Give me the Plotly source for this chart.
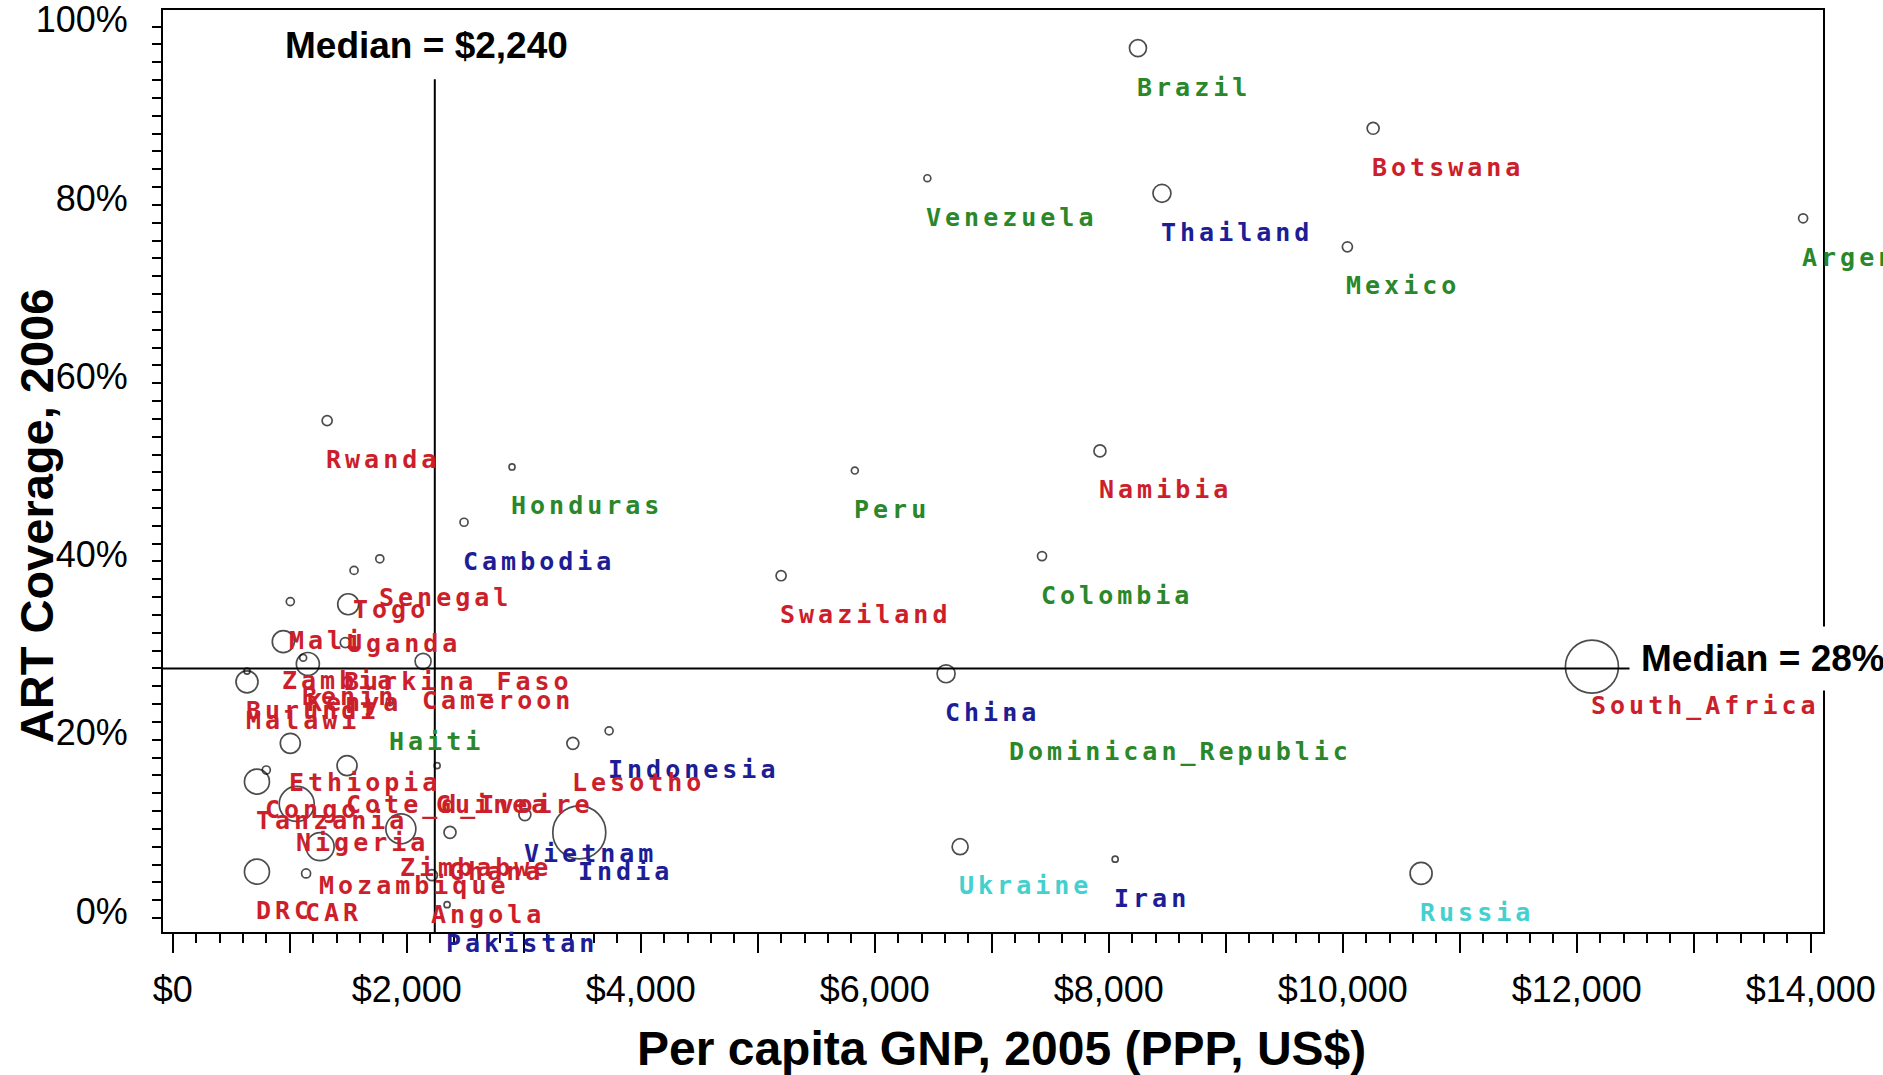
import plotly.graph_objects as go

# ART coverage (2006) against per capita GNP (2005, PPP US$); bubble area = people in need of ART
countries = [
    "Brazil", "Botswana", "Venezuela", "Thailand", "Argentina", "Mexico",
    "Rwanda", "Namibia", "Honduras", "Peru", "Cambodia", "Colombia",
    "Senegal", "Togo", "Swaziland", "Mali", "Uganda", "Zambia",
    "Burkina_Faso", "Benin", "Cameroon", "Kenya", "Burundi", "China",
    "South_Africa", "Malawi", "Haiti", "Dominican_Republic", "Indonesia", "Lesotho",
    "Ethiopia", "Cote_d_Ivoire", "Guinea", "Congo", "Tanzania", "Nigeria",
    "Vietnam", "Zimbabwe", "Ghana", "India", "Ukraine", "Mozambique",
    "Iran", "DRC", "CAR", "Russia", "Angola", "Pakistan",
]
gnp_ppp_2005 = [
    8250, 10260, 6450, 8455, 13935, 10040,
    1320, 7925, 2900, 5830, 2490, 7430,
    1770, 1550, 5200, 1005, 1500, 945,
    1475, 1115, 2140, 1155, 635, 6610,
    12130, 635, 1855, 7155, 3730, 3420,
    1005, 1490, 2260, 800, 720, 1060,
    3010, 1950, 2370, 3475, 6730, 1260,
    8055, 720, 1140, 10670, 2215, 2345,
]
art_coverage_2006 = [
    97.6, 88.6, 83.0, 81.3, 78.5, 75.3,
    55.8, 52.4, 50.6, 50.2, 44.4, 40.6,
    40.3, 39.0, 38.4, 35.5, 35.2, 31.0,
    30.9, 29.2, 28.8, 28.5, 27.7, 27.4,
    28.2, 26.5, 24.2, 23.1, 21.0, 19.6,
    19.6, 17.1, 17.1, 16.6, 15.3, 12.8,
    11.6, 10.0, 9.6, 9.6, 8.0, 8.0,
    6.6, 5.2, 5.0, 5.0, 4.8, 1.5,
]
people_in_need_k = [
    103, 51, 17, 115, 29, 36,
    36, 51, 13, 17, 23, 29,
    23, 23, 36, 23, 157, 172,
    36, 17, 91, 188, 13, 115,
    1000, 172, 17, 13, 23, 51,
    142, 142, 13, 23, 222, 436,
    51, 320, 51, 1000, 91, 279,
    13, 222, 29, 172, 43, 13,
]
region = [
    "LA", "AF", "LA", "AS", "LA", "LA",
    "AF", "AF", "LA", "LA", "AS", "LA",
    "AF", "AF", "AF", "AF", "AF", "AF",
    "AF", "AF", "AF", "AF", "AF", "AS",
    "AF", "AF", "LA", "LA", "AS", "AF",
    "AF", "AF", "AF", "AF", "AF", "AF",
    "AS", "AF", "AF", "AS", "EE", "AF",
    "AS", "AF", "AF", "EE", "AF", "AS",
]

median_gnp = 2240
median_coverage = 28

x_tick_vals = list(range(0, 14001, 1000))
x_tick_text = ["$0", "", "$2,000", "", "$4,000", "", "$6,000", "", "$8,000", "",
               "$10,000", "", "$12,000", "", "$14,000"]
y_tick_vals = [0, 20, 40, 60, 80, 100]
y_tick_text = ["0%", "20%", "40%", "60%", "80%", "100%"]

region_colors = {"AF": "#cc1f2b", "LA": "#2a872a", "AS": "#1d1d96", "EE": "#45d0d0"}

# largest bubble (1,000 thousand people) drawn about 53 px across
bubble_ref = 2 * 1000 / 53 ** 2

fig = go.Figure()

fig.add_trace(go.Scatter(
    x=gnp_ppp_2005,
    y=art_coverage_2006,
    mode="markers",
    text=countries,
    marker=dict(
        size=people_in_need_k,
        sizemode="area",
        sizeref=bubble_ref,
        sizemin=3,
        symbol="circle-open",
        color="black",
        line=dict(width=1.7, color="black"),
    ),
    hoverinfo="text",
    showlegend=False,
))

# country labels sit just below each bubble, left-aligned on its centre,
# in a widely spaced monospace face
annotations = []
for name, gx, cy, reg in zip(countries, gnp_ppp_2005, art_coverage_2006, region):
    annotations.append(dict(
        x=gx, y=cy, xref="x", yref="y",
        text=f'<span style="letter-spacing:4px">{name}</span>',
        showarrow=False,
        xanchor="left", yanchor="middle",
        xshift=-3, yshift=-39,
        font=dict(family="DejaVu Sans Mono", size=25, color=region_colors[reg],
                  weight="bold"),
    ))

bold = dict(family="Liberation Sans, Arial", size=37, color="black", weight="bold")

annotations.append(dict(
    x=median_gnp, y=0.962, xref="x", yref="paper",
    text="Median = $2,240", showarrow=False,
    xanchor="center", yanchor="middle", xshift=-8,
    font=bold,
))
annotations.append(dict(
    x=0.883, y=median_coverage, xref="paper", yref="y",
    text="Median = 28%", showarrow=False,
    xanchor="left", yanchor="middle", yshift=10,
    bgcolor="white", borderpad=11,
    font=bold,
))
annotations.append(dict(
    x=0.505, y=-0.126, xref="paper", yref="paper",
    text="Per capita GNP, 2005 (PPP, US$)", showarrow=False,
    xanchor="center", yanchor="middle",
    font=dict(family="Liberation Sans, Arial", size=48, color="black", weight="bold"),
))
annotations.append(dict(
    x=-0.0765, y=0.451, xref="paper", yref="paper",
    text="ART Coverage, 2006", showarrow=False, textangle=-90,
    xanchor="center", yanchor="middle",
    font=dict(family="Liberation Sans, Arial", size=47, color="black", weight="bold"),
))

shapes = [
    dict(type="line", xref="x", yref="paper", x0=median_gnp, x1=median_gnp,
         y0=0, y1=0.925, line=dict(color="black", width=2)),
    dict(type="line", xref="paper", yref="y", x0=0, x1=1,
         y0=median_coverage, y1=median_coverage, line=dict(color="black", width=2)),
]

tick_font = dict(family="Liberation Sans, Arial", size=36, color="black")

fig.update_layout(
    width=1883, height=1075, autosize=False,
    margin=dict(l=163, r=60, t=10, b=143, pad=0, autoexpand=False),
    paper_bgcolor="white", plot_bgcolor="white",
    annotations=annotations, shapes=shapes,
    xaxis=dict(
        range=[-83, 14105], showgrid=False, zeroline=False, automargin=False,
        showline=True, linecolor="black", linewidth=2, mirror=True,
        tickmode="array", tickvals=x_tick_vals, ticktext=x_tick_text,
        ticks="outside", ticklen=19, tickwidth=2, tickcolor="black",
        ticklabelstandoff=6, tickfont=tick_font,
        minor=dict(dtick=200, tick0=0, ticks="outside", ticklen=9,
                   tickwidth=1.5, tickcolor="black", showgrid=False),
    ),
    yaxis=dict(
        range=[-1.57, 101.87], showgrid=False, zeroline=False, automargin=False,
        showline=True, linecolor="black", linewidth=2, mirror=True,
        tickmode="array", tickvals=y_tick_vals, ticktext=y_tick_text,
        ticks="outside", ticklen=9, tickwidth=2, tickcolor="black",
        ticklabelstandoff=17, ticklabelshift=-7, ticklabeloverflow="allow",
        tickfont=tick_font,
        minor=dict(dtick=2, tick0=0, ticks="outside", ticklen=9,
                   tickwidth=2, tickcolor="black", showgrid=False),
    ),
)

fig.write_html("out.html", config={"displayModeBar": False})
